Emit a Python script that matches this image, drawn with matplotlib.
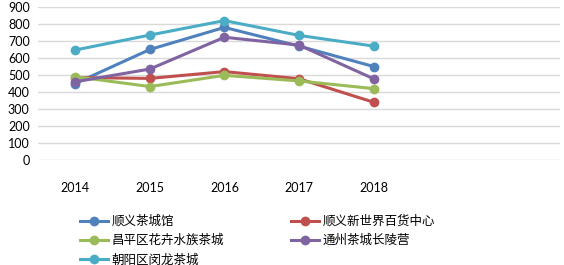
import matplotlib
matplotlib.use("Agg")
import matplotlib.pyplot as plt

plt.rcParams['font.family'] = ['Lato', 'Noto Sans CJK SC', 'DejaVu Sans']

# Donnees
years = ["2014", "2015", "2016", "2017", "2018"]
shunyi_tea = [450, 650, 780, 670, 550]
shunyi_new_world = [485, 480, 520, 478, 340]
changping = [490, 432, 498, 465, 420]
tongzhou = [460, 535, 722, 676, 478]
chaoyang = [647, 735, 820, 733, 670]

names = ["顺义茶城馆", "顺义新世界百货中心", "昌平区花卉水族茶城", "通州茶城长陵营", "朝阳区闵龙茶城"]
colors = ["#4F81BD", "#C0504D", "#9BBB59", "#8064A2", "#4BACC6"]
series = [shunyi_tea, shunyi_new_world, changping, tongzhou, chaoyang]

fig = plt.figure(figsize=(5.64, 2.65), dpi=100)
ax = fig.add_axes([38 / 564, 105 / 265, 522 / 564, 153 / 265])

x = list(range(len(years)))
handles = []
for vals, name, col in zip(series, names, colors):
    h, = ax.plot(x, vals, color=col, lw=2.2, marker="o", markersize=6, label=name)
    handles.append(h)

# axe de categories avec 7 emplacements (2 vides)
ax.set_xlim(-0.5, 6.5)
ax.set_ylim(0, 900)
ax.set_yticks(range(0, 901, 100))
ax.set_xticks(x)
ax.set_xticklabels(years)
ax.grid(axis="y", color="#D9D9D9", lw=1)
ax.set_axisbelow(True)
for s in ax.spines.values():
    s.set_visible(False)
ax.tick_params(axis="both", length=0, labelsize=9, labelcolor="black")
ax.tick_params(axis="x", pad=16)
ax.tick_params(axis="y", pad=6)

order = [0, 2, 4, 1, 3]
fig.legend([handles[i] for i in order], [names[i] for i in order],
           loc="upper left", bbox_to_anchor=(80 / 564, 1 - 215 / 265),
           ncol=2, frameon=False, prop={"family": "Noto Sans CJK SC", "size": 9},
           handlelength=2.2, handletextpad=0.3, columnspacing=5.4,
           labelspacing=0.5, borderaxespad=0, borderpad=0)

fig.savefig("out.png", dpi=100)
